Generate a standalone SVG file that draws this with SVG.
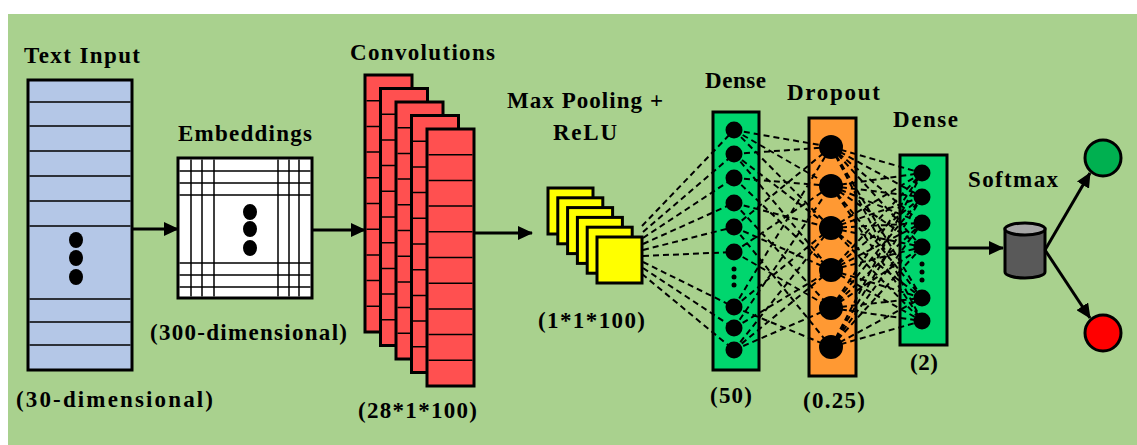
<svg xmlns="http://www.w3.org/2000/svg" width="1137" height="445" viewBox="0 0 1137 445">
<style>
.lbl{font-family:"Liberation Serif","Times New Roman",serif;font-weight:bold;font-size:23px;fill:#000}
.box{stroke:#000;stroke-width:3}
.thin{stroke:#000;stroke-width:1.5;fill:none}
.dash{stroke:#000;stroke-width:2;stroke-dasharray:6 4;fill:none}
.arr{stroke:#000;stroke-width:3;fill:none;marker-end:url(#ah)}
</style>
<defs>
<marker id="ah" markerUnits="userSpaceOnUse" markerWidth="16" markerHeight="14" refX="14" refY="7" orient="auto">
<path d="M0,0 L15,7 L0,14 Z" fill="#000"/>
</marker>
</defs>
<rect x="0" y="0" width="1137" height="445" fill="#ffffff"/>
<rect x="8" y="14" width="1129" height="431" fill="#a9d18e"/>

<g id="text-input">
<rect class="box" x="28" y="80" width="104" height="290" fill="#b4c7e7"/>
<path class="thin" d="M29.5,102H130.5M29.5,126H130.5M29.5,151H130.5M29.5,176H130.5M29.5,201H130.5M29.5,226H130.5M29.5,299H130.5M29.5,322H130.5M29.5,345H130.5"/>
<ellipse cx="76" cy="240" rx="7" ry="8"/><ellipse cx="76" cy="258" rx="7" ry="8"/><ellipse cx="76" cy="277" rx="7" ry="8"/>
<text class="lbl" x="24" y="63" textLength="116" lengthAdjust="spacing">Text Input</text>
<text class="lbl" x="16" y="407" textLength="197" lengthAdjust="spacing">(30-dimensional)</text>
</g>

<g id="embeddings">
<rect class="box" x="178" y="158" width="134" height="140" fill="#ffffff"/>
<path class="thin" d="M191,159.5V296.5M202,159.5V296.5M214,159.5V296.5M278,159.5V296.5M289,159.5V296.5M299,159.5V296.5M179.5,171H310.5M179.5,183H310.5M179.5,195H310.5M179.5,263H310.5M179.5,275H310.5M179.5,287H310.5"/>
<ellipse cx="250" cy="212" rx="7" ry="8"/><ellipse cx="250" cy="229" rx="7" ry="8"/><ellipse cx="250" cy="248" rx="7" ry="8"/>
<text class="lbl" x="178" y="141" textLength="134" lengthAdjust="spacing">Embeddings</text>
<text class="lbl" x="150" y="340" textLength="197" lengthAdjust="spacing">(300-dimensional)</text>
</g>

<g id="convolutions">
<g transform="translate(365,75)"><rect class="box" width="47" height="257" fill="#ff5050"/><path class="thin" d="M1.5,25.7H45.5M1.5,51.4H45.5M1.5,77.1H45.5M1.5,102.8H45.5M1.5,128.5H45.5M1.5,154.2H45.5M1.5,179.9H45.5M1.5,205.6H45.5M1.5,231.3H45.5"/></g>
<g transform="translate(380.5,88.5)"><rect class="box" width="47" height="257" fill="#ff5050"/><path class="thin" d="M1.5,25.7H45.5M1.5,51.4H45.5M1.5,77.1H45.5M1.5,102.8H45.5M1.5,128.5H45.5M1.5,154.2H45.5M1.5,179.9H45.5M1.5,205.6H45.5M1.5,231.3H45.5"/></g>
<g transform="translate(396,102)"><rect class="box" width="47" height="257" fill="#ff5050"/><path class="thin" d="M1.5,25.7H45.5M1.5,51.4H45.5M1.5,77.1H45.5M1.5,102.8H45.5M1.5,128.5H45.5M1.5,154.2H45.5M1.5,179.9H45.5M1.5,205.6H45.5M1.5,231.3H45.5"/></g>
<g transform="translate(411.5,115.5)"><rect class="box" width="47" height="257" fill="#ff5050"/><path class="thin" d="M1.5,25.7H45.5M1.5,51.4H45.5M1.5,77.1H45.5M1.5,102.8H45.5M1.5,128.5H45.5M1.5,154.2H45.5M1.5,179.9H45.5M1.5,205.6H45.5M1.5,231.3H45.5"/></g>
<g transform="translate(427,129)"><rect class="box" width="47" height="257" fill="#ff5050"/><path class="thin" d="M1.5,25.7H45.5M1.5,51.4H45.5M1.5,77.1H45.5M1.5,102.8H45.5M1.5,128.5H45.5M1.5,154.2H45.5M1.5,179.9H45.5M1.5,205.6H45.5M1.5,231.3H45.5"/></g>
<text class="lbl" x="350" y="60" textLength="145" lengthAdjust="spacing">Convolutions</text>
<text class="lbl" x="358" y="418" textLength="119" lengthAdjust="spacing">(28*1*100)</text>
</g>

<g id="max-pooling">
<rect class="box" x="548" y="188" width="45" height="46" fill="#ffff00"/>
<rect class="box" x="557.8" y="197.8" width="45" height="46" fill="#ffff00"/>
<rect class="box" x="567.6" y="207.6" width="45" height="46" fill="#ffff00"/>
<rect class="box" x="577.4" y="217.4" width="45" height="46" fill="#ffff00"/>
<rect class="box" x="587.2" y="227.2" width="45" height="46" fill="#ffff00"/>
<rect class="box" x="597" y="237" width="45" height="46" fill="#ffff00"/>
<text class="lbl" x="507" y="108" textLength="156" lengthAdjust="spacing">Max Pooling +</text>
<text class="lbl" x="553" y="140" textLength="64" lengthAdjust="spacing">ReLU</text>
<text class="lbl" x="538" y="328" textLength="107" lengthAdjust="spacing">(1*1*100)</text>
</g>

<g id="dense-50">
<rect class="box" x="713" y="112" width="46" height="258" fill="#00d66e"/>
<circle cx="734" cy="130" r="8.5"/><circle cx="734" cy="154" r="8.5"/><circle cx="734" cy="178" r="8.5"/><circle cx="734" cy="203" r="8.5"/><circle cx="734" cy="227" r="8.5"/><circle cx="734" cy="252" r="8.5"/>
<circle cx="734" cy="269" r="2.5"/><circle cx="734" cy="277" r="2.5"/><circle cx="734" cy="285" r="2.5"/>
<circle cx="734" cy="307" r="8.5"/><circle cx="734" cy="328" r="8.5"/><circle cx="734" cy="350" r="8.5"/>
<text class="lbl" x="705" y="88" textLength="61" lengthAdjust="spacing">Dense</text>
<text class="lbl" x="710" y="403" textLength="42" lengthAdjust="spacing">(50)</text>
</g>

<g id="dropout">
<rect class="box" x="809" y="118" width="47" height="258" fill="#ff9933"/>
<circle cx="831" cy="147" r="12"/><circle cx="831" cy="186" r="12"/><circle cx="831" cy="228" r="12"/><circle cx="831" cy="270" r="12"/><circle cx="831" cy="308" r="12"/><circle cx="831" cy="347" r="12"/>
<text class="lbl" x="787" y="100" textLength="93" lengthAdjust="spacing">Dropout</text>
<text class="lbl" x="803" y="408" textLength="62" lengthAdjust="spacing">(0.25)</text>
</g>

<g id="dense-2">
<rect class="box" x="900" y="155" width="47" height="190" fill="#00d66e"/>
<circle cx="922" cy="173" r="8.5"/><circle cx="922" cy="197" r="8.5"/><circle cx="922" cy="223" r="8.5"/><circle cx="922" cy="247" r="8.5"/>
<circle cx="922" cy="264" r="2.5"/><circle cx="922" cy="272" r="2.5"/><circle cx="922" cy="280" r="2.5"/>
<circle cx="922" cy="298" r="8.5"/><circle cx="922" cy="321" r="8.5"/>
<text class="lbl" x="893" y="127" textLength="65" lengthAdjust="spacing">Dense</text>
<text class="lbl" x="910" y="370" textLength="28" lengthAdjust="spacing">(2)</text>
</g>

<g id="softmax">
<path d="M1005,229 V272 A20,6 0 0 0 1045,272 V229 Z" fill="#595959" stroke="#000" stroke-width="3"/>
<ellipse cx="1025" cy="229" rx="20" ry="6" fill="#a6a6a6" stroke="#000" stroke-width="3"/>
<text class="lbl" x="968" y="187" textLength="90" lengthAdjust="spacing">Softmax</text>
</g>

<g id="output-positive">
<circle cx="1103" cy="158" r="18" fill="#00b050" stroke="#000" stroke-width="3"/>
</g>
<g id="output-negative">
<circle cx="1103" cy="333" r="18" fill="#ff0000" stroke="#000" stroke-width="3"/>
</g>

<g id="connectors">
<line class="arr" x1="133" y1="229" x2="178" y2="229"/>
<line class="arr" x1="313" y1="230" x2="365" y2="230"/>
<line class="arr" x1="475" y1="233" x2="532" y2="233"/>
<line class="arr" x1="948" y1="248" x2="1003" y2="248"/>
<line class="arr" x1="1045" y1="250" x2="1090" y2="173"/>
<line class="arr" x1="1045" y1="250" x2="1090" y2="318"/>
<g class="dash">
<path d="M642,226L734,130M643,232L734,154M643,238L734,178M643,244L734,203M643,250L734,227M643,256L734,252M643,262L734,307M643,268L734,328M642,274L734,350"/>
<path d="M734,130L831,147M734,130L831,186M734,130L831,228M734,154L831,147M734,154L831,228M734,154L831,270M734,178L831,186M734,178L831,270M734,203L831,228M734,203L831,308M734,227L831,147M734,227L831,270M734,227L831,347M734,252L831,186M734,252L831,308M734,307L831,147M734,307L831,228M734,307L831,347M734,328L831,186M734,328L831,270M734,350L831,308M734,350L831,270M734,350L831,228"/>
<path d="M831,147L922,173M831,147L922,197M831,147L922,223M831,147L922,247M831,147L922,298M831,147L922,321M831,186L922,173M831,186L922,197M831,186L922,223M831,186L922,247M831,186L922,298M831,186L922,321M831,228L922,173M831,228L922,197M831,228L922,223M831,228L922,247M831,228L922,298M831,228L922,321M831,270L922,173M831,270L922,197M831,270L922,223M831,270L922,247M831,270L922,298M831,270L922,321M831,308L922,173M831,308L922,197M831,308L922,223M831,308L922,247M831,308L922,298M831,308L922,321M831,347L922,173M831,347L922,197M831,347L922,223M831,347L922,247M831,347L922,298M831,347L922,321"/>
</g>
</g>
</svg>
